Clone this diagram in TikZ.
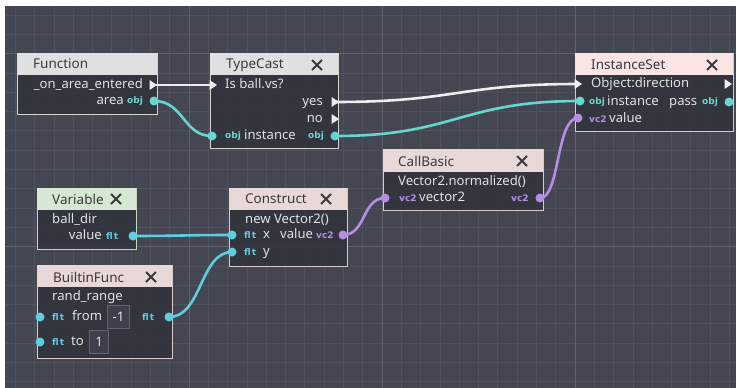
\documentclass[tikz,border=0pt]{standalone}
\usepackage{fontspec}
\setmainfont{Noto Sans}
\newfontfamily\icofam{DejaVu Sans}
\definecolor{bgc}{HTML}{444752}
\definecolor{gminor}{HTML}{4F525D}
\definecolor{gmajor}{HTML}{5E616C}
\definecolor{bodyc}{HTML}{31333B}
\definecolor{hgray}{HTML}{E0E0E0}
\definecolor{hpink}{HTML}{FAE4E4}
\definecolor{hrose}{HTML}{E8D8D8}
\definecolor{hgreen}{HTML}{D6E8D4}
\definecolor{bgray}{HTML}{D4D4D4}
\definecolor{brose}{HTML}{DCCACA}
\definecolor{bgreen}{HTML}{C4D6C2}
\definecolor{titlec}{HTML}{3A3A3A}
\definecolor{lblc}{HTML}{E2E2E2}
\definecolor{objc}{HTML}{66D6CE}
\definecolor{fltc}{HTML}{5ECDE2}
\definecolor{vecc}{HTML}{B68DE2}
\definecolor{seqc}{HTML}{EDEDED}
\definecolor{valfill}{HTML}{3E414B}
\definecolor{valdraw}{HTML}{62656F}
\newcommand{\titlefont}{\fontsize{13.5}{15}\selectfont}
\newcommand{\lblfont}{\fontsize{13.1}{15}\selectfont}
\newcommand{\icofont}{\icofam\bfseries\fontsize{9}{10}\selectfont}
\newcommand{\fltico}{\addfontfeature{LetterSpace=10}flt}
\newcommand{\seqtri}[1]{\fill[seqc] (#1) ++(-3.5,-5) -- ++(7.5,5) -- ++(-7.5,5) -- cycle;}
\newcommand{\closex}[1]{\draw[titlec, line width=1.9pt] (#1) ++(-5,-5) -- ++(10,10) (#1) ++(5,-5) -- ++(-10,10);}
\begin{document}
\begin{tikzpicture}[x=1pt,y=-1pt,
  gridminor/.style={draw=gminor, line width=0.8pt},
  gridmajor/.style={draw=gmajor, line width=1pt},
  body/.style={draw=#1, fill=bodyc, fill opacity=0.85, line width=1pt, anchor=north west, inner sep=0pt, outer sep=0pt},
  head/.style={fill=#1, anchor=north west, inner sep=0pt, outer sep=0pt},
  title/.style={anchor=west, inner sep=0pt, text=titlec, font=\titlefont},
  lbl/.style={anchor=west, inner sep=0pt, text=lblc, font=\lblfont, text height=9pt, text depth=2.5pt},
  lble/.style={lbl, anchor=east},
  ico/.style={anchor=west, inner sep=0pt, text=#1, font=\icofont},
  port/.style={circle, fill=#1, inner sep=0pt, minimum size=9pt},
  wire/.style={draw=#1, line width=2.6pt},
  valbox/.style={draw=valdraw, fill=valfill, line width=1pt, inner sep=0pt, anchor=north west, text=lblc, font=\lblfont}
]
% canvas
\fill[white] (0,0) rectangle (736,388);
\useasboundingbox (0,0) rectangle (736,388);
\fill[bgc] (5,6) rectangle (736,388);
\foreach \i in {0,...,37} {\draw[gridminor] ({15.3+19.3*\i},6) -- ({15.3+19.3*\i},388);}
\foreach \i in {0,...,19} {\draw[gridminor] (5,{15+19.3*\i}) -- (736,{15+19.3*\i});}
\foreach \i in {9,19,29} {\draw[gridmajor] ({15.3+19.3*\i},6) -- ({15.3+19.3*\i},388);}
\foreach \i in {2,12} {\draw[gridmajor] (5,{15+19.3*\i}) -- (736,{15+19.3*\i});}

% ---------- Function
\node[body=bgray, minimum width=140pt, minimum height=61pt] (fn) at (17,53) {};
\node[head=hgray, minimum width=140pt, minimum height=22pt] (fnh) at (17,53) {};
\node[title] (fnt) at (33,64) {Function};
\node[lble] (fn1) at (143,85) {\_on\_area\_entered};
\node[lble] (fn2) at (124,101) {area};
\node[ico=objc] (fn2i) at (127,101) {obj};
\coordinate (fnseq) at (153,85);
\coordinate (fnarea) at (154,101);

% ---------- TypeCast
\node[body=bgray, minimum width=128pt, minimum height=95pt] (tc) at (210,53) {};
\node[head=hgray, minimum width=128pt, minimum height=22pt] (tch) at (210,53) {};
\node[title] (tct) at (226,65) {TypeCast};
\closex{317,65}
\node[lbl] (tc1) at (225,85) {Is ball.vs?};
\node[lble] (tc2) at (323,102) {yes};
\node[lble] (tc3) at (323,119) {no};
\node[ico=objc] (tc4i) at (225,136) {obj};
\node[lbl] (tc4) at (244,136) {instance};
\node[ico=objc] (tc5i) at (308,136) {obj};
\coordinate (tcseqin) at (213,85);
\coordinate (tcyes) at (335,102);
\coordinate (tcno) at (335,119);
\coordinate (tcinst) at (212,136);
\coordinate (tcout) at (335,136);

% ---------- InstanceSet
\node[body=brose, minimum width=158pt, minimum height=78pt] (is) at (575,53) {};
\node[head=hpink, minimum width=158pt, minimum height=22pt] (ish) at (575,53) {};
\node[title] (ist) at (591,65) {InstanceSet};
\closex{712,65}
\node[lbl] (is1) at (591,84) {Object:direction};
\node[ico=objc] (is2i) at (589,102) {obj};
\node[lbl] (is2) at (607,102) {instance};
\node[lbl] (is3) at (669,102) {pass};
\node[ico=objc] (is3i) at (702,102) {obj};
\node[ico=vecc] (is4i) at (589,119) {vc2};
\node[lbl] (is4) at (609,119) {value};
\coordinate (isseqin) at (578,84);
\coordinate (isseqout) at (728,84);
\coordinate (isinst) at (580,101);
\coordinate (ispass) at (729,102);
\coordinate (isvalue) at (578,118);

% ---------- CallBasic
\node[body=brose, minimum width=160pt, minimum height=61pt] (cb) at (383,149) {};
\node[head=hrose, minimum width=160pt, minimum height=23pt] (cbh) at (383,149) {};
\node[title] (cbt) at (398,161) {CallBasic};
\closex{522,161}
\node[lbl] (cb1) at (398,182) {Vector2.normalized()};
\node[ico=vecc] (cb2i) at (399,198) {vc2};
\node[lbl] (cb2) at (419,198) {vector2};
\node[ico=vecc] (cb3i) at (511,198) {vc2};
\coordinate (cbin) at (385,198);
\coordinate (cbout) at (540,198);

% ---------- Variable
\node[body=bgreen, minimum width=99pt, minimum height=61pt] (va) at (37,188) {};
\node[head=hgreen, minimum width=99pt, minimum height=22pt] (vah) at (37,188) {};
\node[title] (vat) at (52,199) {Variable};
\closex{116,199}
\node[lbl] (va1) at (52,220) {ball\_dir};
\node[lble] (va2) at (102,236) {value};
\node[ico=fltc] (va2i) at (106,236) {\fltico};
\coordinate (vaout) at (133,236);

% ---------- BuiltinFunc
\node[body=brose, minimum width=135pt, minimum height=93pt] (bf) at (37,265) {};
\node[head=hrose, minimum width=135pt, minimum height=22pt] (bfh) at (37,265) {};
\node[title] (bft) at (53,277) {BuiltinFunc};
\closex{151,277}
\node[lbl] (bf1) at (52,297) {rand\_range};
\node[ico=fltc] (bf2i) at (52,317) {\fltico};
\node[lbl] (bf2) at (72,317) {from};
\node[valbox, minimum width=22pt, minimum height=23pt] (bfv1) at (107,305) {-1};
\node[ico=fltc] (bf3i) at (142,317) {\fltico};
\node[ico=fltc] (bf4i) at (52,342) {\fltico};
\node[lbl] (bf4) at (71,342) {to};
\node[valbox, minimum width=19pt, minimum height=23pt] (bfv2) at (89,330) {1};
\coordinate (bffrom) at (40,317);
\coordinate (bfto) at (40,342);
\coordinate (bfout) at (169,317);

% ---------- Construct
\node[body=brose, minimum width=118pt, minimum height=78pt] (co) at (229,188) {};
\node[head=hrose, minimum width=118pt, minimum height=22pt] (coh) at (229,188) {};
\node[title] (cot) at (245,199) {Construct};
\closex{326,199}
\node[lbl] (co1) at (245,220) {new Vector2()};
\node[ico=fltc] (co2i) at (244,235) {\fltico};
\node[lbl] (co2) at (263,235) {x};
\node[lbl] (co3) at (280,235) {value};
\node[ico=vecc] (co3i) at (316,235) {vc2};
\node[ico=fltc] (co4i) at (244,252) {\fltico};
\node[lbl] (co4) at (263,252) {y};
\coordinate (cox) at (232,235);
\coordinate (coy) at (232,252);
\coordinate (coout) at (343,235);

% ---------- wires
\draw[wire=seqc] (fnseq) -- (tcseqin);
\draw[wire=seqc] (tcyes) .. controls (455,102) and (460,84) .. (isseqin);
\draw[wire=objc] (fnarea) .. controls (184,101) and (183,136) .. (tcinst);
\draw[wire=objc] (tcout) .. controls (455,136) and (460,101) .. (isinst);
\draw[wire=fltc] (vaout) .. controls (180,236) and (185,235) .. (cox);
\draw[wire=fltc] (bfout) .. controls (202,317) and (200,252) .. (coy);
\draw[wire=vecc] (coout) .. controls (366,235) and (362,198) .. (cbin);
\draw[wire=vecc] (cbout) .. controls (560,198) and (556,118) .. (isvalue);

% ---------- ports
\seqtri{fnseq}
\seqtri{tcseqin}
\seqtri{tcyes}
\seqtri{tcno}
\seqtri{isseqin}
\seqtri{isseqout}
\node[port=objc] (p1) at (fnarea) {};
\node[port=objc] (p2) at (tcinst) {};
\node[port=objc] (p3) at (tcout) {};
\node[port=objc] (p4) at (isinst) {};
\node[port=objc] (p5) at (ispass) {};
\node[port=vecc] (p6) at (isvalue) {};
\node[port=vecc] (p7) at (cbin) {};
\node[port=vecc] (p8) at (cbout) {};
\node[port=fltc] (p9) at (vaout) {};
\node[port=fltc] (p10) at (bffrom) {};
\node[port=fltc] (p11) at (bfto) {};
\node[port=fltc] (p12) at (bfout) {};
\node[port=fltc] (p13) at (cox) {};
\node[port=fltc] (p14) at (coy) {};
\node[port=vecc] (p15) at (coout) {};
\end{tikzpicture}
\end{document}
